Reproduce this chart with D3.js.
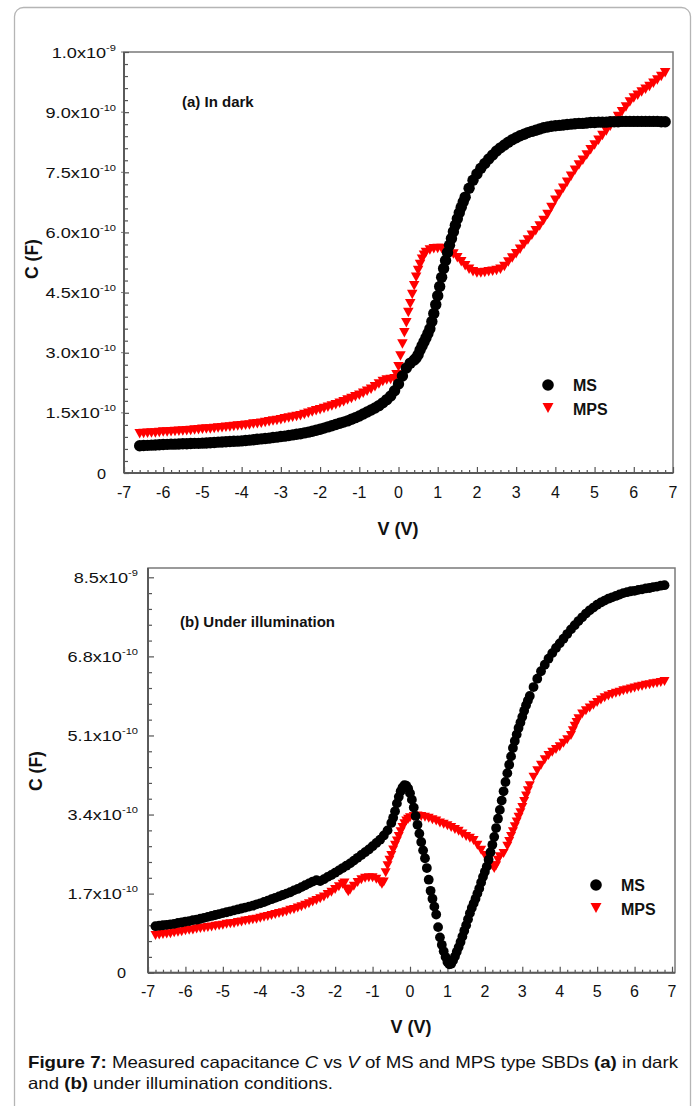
<!DOCTYPE html>
<html><head><meta charset="utf-8">
<script src="https://cdn.jsdelivr.net/npm/d3@7"></script>
<style>
body{margin:0;background:#fff}
svg{display:block}
text{font-family:"Liberation Sans",Arial,sans-serif;fill:#111}
</style>
</head><body>
<svg id="fig" width="697" height="1106"></svg>
<script>
// ---------- data (C in units of 1e-10 F, V in volts) ----------
const xTicks = [-7,-6,-5,-4,-3,-2,-1,0,1,2,3,4,5,6,7];
const darkYTicks = [0,1.5,3,4.5,6,7.5,9,10.5];
const darkYTickLabels = ["0","1.5x10^-10","3.0x10^-10","4.5x10^-10","6.0x10^-10","7.5x10^-10","9.0x10^-10","1.0x10^-9"];
const lightYTicks = [0,1.7,3.4,5.1,6.8,8.5];
const lightYTickLabels = ["0","1.7x10^-10","3.4x10^-10","5.1x10^-10","6.8x10^-10","8.5x10^-9"];
const seriesNames = ["MS","MPS"];

const darkMS = [[-6.6,0.68],[-6.5,0.685],[-6.4,0.69],[-6.3,0.695],[-6.2,0.70],[-6.1,0.705],[-6.0,0.71],[-5.9,0.715],[-5.8,0.72],[-5.7,0.72],[-5.6,0.725],[-5.5,0.73],[-5.4,0.73],[-5.3,0.735],[-5.2,0.74],[-5.1,0.74],[-5.0,0.745],[-4.9,0.75],[-4.8,0.755],[-4.7,0.76],[-4.6,0.77],[-4.5,0.775],[-4.4,0.78],[-4.3,0.785],[-4.2,0.79],[-4.1,0.795],[-4.0,0.80],[-3.9,0.81],[-3.8,0.82],[-3.7,0.83],[-3.6,0.84],[-3.5,0.85],[-3.4,0.86],[-3.3,0.87],[-3.2,0.885],[-3.1,0.895],[-3.0,0.91],[-2.9,0.92],[-2.8,0.935],[-2.7,0.95],[-2.6,0.965],[-2.5,0.98],[-2.4,1.0],[-2.3,1.02],[-2.2,1.04],[-2.1,1.065],[-2.0,1.09],[-1.9,1.12],[-1.8,1.15],[-1.7,1.18],[-1.6,1.21],[-1.5,1.24],[-1.4,1.27],[-1.3,1.30],[-1.2,1.34],[-1.1,1.38],[-1.0,1.42],[-0.9,1.47],[-0.8,1.52],[-0.7,1.57],[-0.6,1.62],[-0.5,1.68],[-0.4,1.75],[-0.3,1.83],[-0.2,1.92],[-0.1,2.05],[0.0,2.22],[0.1,2.42],[0.2,2.62],[0.3,2.74],[0.4,2.82],[0.45,2.87],[0.5,2.95],[0.55,3.07],[0.6,3.17],[0.65,3.27],[0.7,3.37],[0.75,3.48],[0.8,3.60],[0.85,3.78],[0.9,3.98],[0.95,4.20],[1.0,4.42],[1.05,4.65],[1.1,4.88],[1.15,5.10],[1.2,5.30],[1.25,5.50],[1.3,5.68],[1.35,5.85],[1.4,6.02],[1.45,6.18],[1.5,6.34],[1.55,6.49],[1.6,6.63],[1.65,6.76],[1.7,6.88],[1.8,7.10],[1.9,7.30],[2.0,7.46],[2.1,7.60],[2.2,7.72],[2.3,7.83],[2.4,7.93],[2.5,8.03],[2.6,8.11],[2.7,8.18],[2.8,8.25],[2.9,8.31],[3.0,8.36],[3.1,8.41],[3.2,8.45],[3.3,8.49],[3.4,8.52],[3.5,8.55],[3.6,8.58],[3.7,8.61],[3.8,8.63],[3.9,8.65],[4.0,8.66],[4.1,8.67],[4.2,8.68],[4.3,8.69],[4.4,8.70],[4.5,8.71],[4.6,8.72],[4.7,8.72],[4.8,8.73],[4.9,8.74],[5.0,8.74],[5.1,8.75],[5.2,8.75],[5.3,8.75],[5.4,8.76],[5.5,8.76],[5.6,8.76],[5.7,8.77],[5.8,8.77],[5.9,8.77],[6.0,8.77],[6.1,8.77],[6.2,8.77],[6.3,8.77],[6.4,8.77],[6.5,8.77],[6.6,8.77],[6.7,8.76],[6.8,8.76]];

const darkMPS = [[-6.6,0.98],[-6.5,0.985],[-6.4,0.99],[-6.3,0.995],[-6.2,1.0],[-6.1,1.01],[-6.0,1.02],[-5.9,1.025],[-5.8,1.03],[-5.7,1.035],[-5.6,1.04],[-5.5,1.05],[-5.4,1.055],[-5.3,1.06],[-5.2,1.07],[-5.1,1.08],[-5.0,1.09],[-4.9,1.095],[-4.8,1.10],[-4.7,1.11],[-4.6,1.12],[-4.5,1.13],[-4.4,1.14],[-4.3,1.15],[-4.2,1.16],[-4.1,1.17],[-4.0,1.18],[-3.9,1.19],[-3.8,1.20],[-3.7,1.22],[-3.6,1.23],[-3.5,1.24],[-3.4,1.26],[-3.3,1.28],[-3.2,1.30],[-3.1,1.31],[-3.0,1.33],[-2.9,1.35],[-2.8,1.37],[-2.7,1.39],[-2.6,1.41],[-2.5,1.43],[-2.4,1.46],[-2.3,1.49],[-2.2,1.52],[-2.1,1.55],[-2.0,1.58],[-1.9,1.61],[-1.8,1.64],[-1.7,1.67],[-1.6,1.70],[-1.5,1.74],[-1.4,1.78],[-1.3,1.82],[-1.2,1.86],[-1.1,1.90],[-1.0,1.94],[-0.9,1.99],[-0.8,2.04],[-0.7,2.09],[-0.6,2.15],[-0.5,2.22],[-0.4,2.28],[-0.3,2.32],[-0.2,2.33],[-0.1,2.35],[-0.05,2.45],[0.0,2.65],[0.05,2.92],[0.1,3.22],[0.15,3.50],[0.2,3.75],[0.25,4.00],[0.3,4.22],[0.35,4.45],[0.4,4.67],[0.45,4.88],[0.5,5.05],[0.55,5.20],[0.6,5.33],[0.65,5.43],[0.7,5.50],[0.8,5.56],[0.9,5.59],[1.0,5.60],[1.1,5.60],[1.2,5.58],[1.3,5.53],[1.4,5.46],[1.5,5.37],[1.6,5.27],[1.7,5.17],[1.8,5.08],[1.9,5.02],[2.0,4.99],[2.1,4.99],[2.2,5.00],[2.3,5.02],[2.4,5.03],[2.5,5.05],[2.6,5.08],[2.7,5.15],[2.8,5.26],[2.9,5.36],[3.0,5.47],[3.1,5.58],[3.2,5.70],[3.3,5.81],[3.4,5.93],[3.5,6.04],[3.6,6.16],[3.7,6.30],[3.8,6.45],[3.9,6.62],[4.0,6.80],[4.1,6.95],[4.2,7.10],[4.3,7.25],[4.4,7.40],[4.5,7.55],[4.6,7.68],[4.7,7.80],[4.8,7.93],[4.9,8.06],[5.0,8.18],[5.1,8.30],[5.2,8.42],[5.3,8.53],[5.4,8.65],[5.5,8.77],[5.6,8.89],[5.7,9.01],[5.8,9.13],[5.9,9.25],[6.0,9.35],[6.1,9.42],[6.2,9.50],[6.3,9.57],[6.4,9.64],[6.5,9.72],[6.6,9.80],[6.7,9.89],[6.8,9.98]];

const lightMS = [[-6.8,1.00],[-6.7,1.01],[-6.6,1.02],[-6.5,1.03],[-6.4,1.04],[-6.3,1.05],[-6.2,1.07],[-6.1,1.08],[-6.0,1.10],[-5.9,1.11],[-5.8,1.13],[-5.7,1.14],[-5.6,1.16],[-5.5,1.18],[-5.4,1.20],[-5.3,1.22],[-5.2,1.24],[-5.1,1.26],[-5.0,1.28],[-4.9,1.30],[-4.8,1.32],[-4.7,1.34],[-4.6,1.36],[-4.5,1.38],[-4.4,1.40],[-4.3,1.42],[-4.2,1.44],[-4.1,1.47],[-4.0,1.49],[-3.9,1.52],[-3.8,1.55],[-3.7,1.58],[-3.6,1.61],[-3.5,1.64],[-3.4,1.67],[-3.3,1.70],[-3.2,1.73],[-3.1,1.77],[-3.0,1.80],[-2.9,1.84],[-2.8,1.88],[-2.7,1.92],[-2.6,1.96],[-2.5,1.99],[-2.4,1.97],[-2.3,2.01],[-2.2,2.06],[-2.1,2.10],[-2.0,2.15],[-1.9,2.20],[-1.8,2.25],[-1.7,2.30],[-1.6,2.35],[-1.5,2.41],[-1.4,2.47],[-1.3,2.53],[-1.2,2.59],[-1.1,2.65],[-1.0,2.72],[-0.9,2.79],[-0.8,2.86],[-0.7,2.95],[-0.6,3.06],[-0.5,3.22],[-0.45,3.33],[-0.4,3.47],[-0.35,3.64],[-0.3,3.78],[-0.25,3.90],[-0.2,3.98],[-0.15,4.03],[-0.1,4.02],[-0.05,3.96],[0.0,3.86],[0.05,3.72],[0.1,3.55],[0.15,3.37],[0.2,3.18],[0.25,2.99],[0.3,2.81],[0.35,2.63],[0.4,2.46],[0.45,2.25],[0.5,2.00],[0.55,1.76],[0.6,1.59],[0.65,1.42],[0.7,1.25],[0.75,0.98],[0.8,0.76],[0.85,0.60],[0.9,0.46],[0.95,0.34],[1.0,0.23],[1.05,0.18],[1.1,0.19],[1.15,0.26],[1.2,0.35],[1.25,0.45],[1.3,0.55],[1.35,0.66],[1.4,0.78],[1.45,0.90],[1.5,1.02],[1.55,1.15],[1.6,1.28],[1.65,1.39],[1.7,1.49],[1.75,1.59],[1.8,1.70],[1.85,1.81],[1.9,1.94],[1.95,2.06],[2.0,2.17],[2.05,2.28],[2.1,2.43],[2.15,2.59],[2.2,2.75],[2.25,2.92],[2.3,3.11],[2.35,3.31],[2.4,3.50],[2.45,3.70],[2.5,3.90],[2.55,4.10],[2.6,4.29],[2.65,4.47],[2.7,4.65],[2.75,4.83],[2.8,4.98],[2.85,5.12],[2.9,5.26],[2.95,5.38],[3.0,5.50],[3.05,5.63],[3.1,5.75],[3.15,5.85],[3.2,5.95],[3.3,6.14],[3.4,6.32],[3.5,6.48],[3.6,6.62],[3.7,6.75],[3.8,6.87],[3.9,6.98],[4.0,7.08],[4.1,7.18],[4.2,7.28],[4.3,7.38],[4.4,7.47],[4.5,7.56],[4.6,7.64],[4.7,7.72],[4.8,7.79],[4.9,7.85],[5.0,7.91],[5.1,7.96],[5.2,8.00],[5.3,8.04],[5.4,8.07],[5.5,8.10],[5.6,8.13],[5.7,8.16],[5.8,8.18],[5.9,8.20],[6.0,8.21],[6.1,8.23],[6.2,8.24],[6.3,8.26],[6.4,8.27],[6.5,8.29],[6.6,8.30],[6.7,8.32],[6.8,8.33]];

const lightMPS = [[-6.8,0.80],[-6.7,0.81],[-6.6,0.82],[-6.5,0.83],[-6.4,0.84],[-6.3,0.86],[-6.2,0.87],[-6.1,0.88],[-6.0,0.90],[-5.9,0.91],[-5.8,0.92],[-5.7,0.94],[-5.6,0.95],[-5.5,0.96],[-5.4,0.97],[-5.3,0.98],[-5.2,1.0],[-5.1,1.01],[-5.0,1.02],[-4.9,1.04],[-4.8,1.05],[-4.7,1.06],[-4.6,1.08],[-4.5,1.09],[-4.4,1.11],[-4.3,1.12],[-4.2,1.14],[-4.1,1.15],[-4.0,1.17],[-3.9,1.19],[-3.8,1.21],[-3.7,1.23],[-3.6,1.25],[-3.5,1.27],[-3.4,1.29],[-3.3,1.31],[-3.2,1.34],[-3.1,1.36],[-3.0,1.39],[-2.9,1.42],[-2.8,1.45],[-2.7,1.48],[-2.6,1.52],[-2.5,1.55],[-2.4,1.59],[-2.3,1.63],[-2.2,1.68],[-2.1,1.73],[-2.0,1.79],[-1.9,1.85],[-1.8,1.90],[-1.75,1.93],[-1.7,1.80],[-1.65,1.74],[-1.6,1.78],[-1.5,1.86],[-1.4,1.94],[-1.3,2.00],[-1.2,2.03],[-1.1,2.04],[-1.0,2.04],[-0.9,2.01],[-0.8,1.95],[-0.75,1.90],[-0.7,1.95],[-0.65,2.15],[-0.6,2.30],[-0.55,2.42],[-0.5,2.52],[-0.45,2.64],[-0.4,2.74],[-0.35,2.83],[-0.3,2.93],[-0.25,3.03],[-0.2,3.12],[-0.15,3.20],[-0.1,3.26],[-0.05,3.30],[0.0,3.33],[0.1,3.36],[0.2,3.37],[0.3,3.36],[0.4,3.34],[0.5,3.32],[0.6,3.29],[0.7,3.26],[0.8,3.22],[0.9,3.19],[1.0,3.16],[1.1,3.12],[1.2,3.08],[1.3,3.04],[1.4,2.98],[1.5,2.93],[1.6,2.89],[1.7,2.84],[1.8,2.74],[1.9,2.63],[2.0,2.52],[2.1,2.42],[2.2,2.30],[2.25,2.24],[2.3,2.30],[2.35,2.42],[2.4,2.49],[2.5,2.56],[2.6,2.72],[2.65,2.82],[2.7,2.93],[2.75,3.03],[2.8,3.14],[2.85,3.24],[2.9,3.34],[2.95,3.44],[3.0,3.55],[3.05,3.68],[3.1,3.80],[3.15,3.91],[3.2,4.02],[3.3,4.20],[3.4,4.34],[3.5,4.46],[3.6,4.58],[3.7,4.67],[3.8,4.74],[3.9,4.80],[4.0,4.86],[4.1,4.93],[4.2,5.01],[4.3,5.10],[4.35,5.20],[4.4,5.30],[4.45,5.38],[4.5,5.46],[4.6,5.56],[4.7,5.63],[4.8,5.69],[4.9,5.75],[5.0,5.81],[5.1,5.86],[5.2,5.91],[5.3,5.95],[5.4,5.98],[5.5,6.01],[5.6,6.03],[5.7,6.06],[5.8,6.08],[5.9,6.10],[6.0,6.12],[6.1,6.14],[6.2,6.16],[6.3,6.18],[6.4,6.19],[6.5,6.21],[6.6,6.22],[6.7,6.24],[6.8,6.26]];

// ---------- drawing ----------
const svg = d3.select("#fig");
svg.append("rect").attr("width",697).attr("height",1106).attr("fill","#fff");
svg.append("rect").attr("x",14.5).attr("y",7.5).attr("width",676).attr("height",1200)
  .attr("rx",9).attr("fill","none").attr("stroke","#b5b5b5").attr("stroke-width",1.3);

const triPath = (w,h) => `M${-w/2},${-h/2}L${w/2},${-h/2}L0,${h/2}Z`;

function panel(cfg){
  const x = d3.scaleLinear().domain(cfg.xDomain).range([cfg.left, cfg.right]);
  const y = d3.scaleLinear().domain(cfg.yDomain).range([cfg.bottom, cfg.top]);
  const g = svg.append("g");

  g.append("rect").attr("x",cfg.left).attr("y",cfg.top)
    .attr("width",cfg.right-cfg.left).attr("height",cfg.bottom-cfg.top)
    .attr("fill","none").attr("stroke","#7a7a7a").attr("stroke-width",1.5);

  // x axis (ticks inward)
  const xMinor = d3.range(cfg.xDomain[0], 7.0001, 0.2).filter(v => Math.abs(v-Math.round(v))>1e-6);
  const xAxisMajor = d3.axisBottom(x).tickValues(xTicks).tickSize(-6).tickFormat("");
  const xAxisMinor = d3.axisBottom(x).tickValues(xMinor).tickSize(-3).tickFormat("");
  [xAxisMinor, xAxisMajor].forEach(ax => {
    const a = g.append("g").attr("transform",`translate(0,${cfg.bottom})`).call(ax);
    a.select(".domain").remove();
    a.selectAll("line").attr("stroke","#555").attr("stroke-width",1.2);
  });
  g.append("line").attr("x1",cfg.left).attr("x2",cfg.right).attr("y1",cfg.bottom).attr("y2",cfg.bottom)
    .attr("stroke","#5a5a5a").attr("stroke-width",2);
  g.selectAll(".xl").data(xTicks).join("text")
    .attr("x",d=>x(d)).attr("y",cfg.bottom+cfg.xLabelDy)
    .attr("text-anchor","middle").attr("font-size",16).text(d=>d);

  // y axis
  const yMinor = d3.range(cfg.yDomain[0], cfg.yDomain[1]+1e-6, cfg.yMinorStep)
      .filter(v => !cfg.yTicks.some(t => Math.abs(t-v)<1e-6));
  const yAxisMajor = d3.axisLeft(y).tickValues(cfg.yTicks).tickSize(-cfg.yMajorIn).tickFormat("");
  const yAxisMinor = d3.axisLeft(y).tickValues(yMinor).tickSize(-4).tickFormat("");
  [yAxisMinor, yAxisMajor].forEach(ax => {
    const a = g.append("g").attr("transform",`translate(${cfg.left},0)`).call(ax);
    a.select(".domain").remove();
    a.selectAll("line").attr("stroke","#555").attr("stroke-width",1.2);
  });
  if (cfg.yMajorOut) {
    g.selectAll(".yo").data(cfg.yTicks.slice(1)).join("line")
      .attr("x1",cfg.left-cfg.yMajorOut).attr("x2",cfg.left)
      .attr("y1",d=>y(d)).attr("y2",d=>y(d)).attr("stroke","#777").attr("stroke-width",1);
  }
  g.append("line").attr("x1",cfg.left).attr("x2",cfg.left).attr("y1",cfg.top).attr("y2",cfg.bottom)
    .attr("stroke","#5a5a5a").attr("stroke-width",2);

  cfg.yTicks.forEach((t,i) => {
    const parts = cfg.yLabels[i].split("^");
    const gx = parts.length === 1 ? cfg.left - cfg.zeroGap : cfg.left - cfg.labelGap;
    const tg = g.append("g").attr("transform",`translate(${gx},${y(t)+5.5}) scale(${parts.length===1?1.05:1.17},1)`);
    const tx = tg.append("text").attr("x",0).attr("y",0).attr("font-size",15.5).attr("text-anchor","end");
    tx.append("tspan").text(parts[0]);
    if (parts.length > 1) tx.append("tspan").attr("font-size",9.5).attr("dy",-7).text(parts[1]);
  });

  g.append("text").attr("transform",`translate(${cfg.yTitleX},${cfg.yTitleY}) rotate(-90)`)
    .attr("text-anchor","middle").attr("font-weight","bold").attr("font-size",17.5).text("C (F)");
  g.append("text").attr("x",cfg.xTitleX).attr("y",cfg.xTitleY)
    .attr("text-anchor","middle").attr("font-weight","bold").attr("font-size",18).text("V (V)");

  g.append("text").attr("x",cfg.labelX).attr("y",cfg.labelY)
    .attr("font-weight","bold").attr("font-size",15).text(cfg.label);

  // series: MPS (red triangles) then MS (black circles)
  g.append("g").selectAll("path").data(cfg.mps).join("path")
    .attr("d", triPath(cfg.triW, cfg.triH))
    .attr("transform", d=>`translate(${x(d[0])},${y(d[1])})`)
    .attr("fill","#ff0000");
  g.append("g").selectAll("circle").data(cfg.ms).join("circle")
    .attr("cx",d=>x(d[0])).attr("cy",d=>y(d[1])).attr("r",cfg.r).attr("fill","#000");

  // legend
  const lg = g.append("g");
  lg.append("circle").attr("cx",cfg.legX).attr("cy",cfg.legY).attr("r",5.8).attr("fill","#000");
  lg.append("path").attr("d",triPath(11,10)).attr("transform",`translate(${cfg.legX},${cfg.legY+23})`).attr("fill","#ff0000");
  lg.append("text").attr("x",cfg.legX+25).attr("y",cfg.legY+6).attr("font-weight","bold").attr("font-size",16).text(seriesNames[0]);
  lg.append("text").attr("x",cfg.legX+25).attr("y",cfg.legY+29.5).attr("font-weight","bold").attr("font-size",16).text(seriesNames[1]);
}

panel({
  left:124, right:673, top:52, bottom:473,
  xDomain:[-7,7], yDomain:[0,10.5],
  yTicks:darkYTicks, yLabels:darkYTickLabels, yMinorStep:0.3,
  yMajorIn:5, yMajorOut:3, labelGap:8, zeroGap:18,
  xLabelDy:25, yTitleX:38, yTitleY:259, xTitleX:398, xTitleY:535,
  label:"(a) In dark", labelX:182, labelY:107,
  ms:darkMS, mps:darkMPS, r:5.7, triW:10.5, triH:9.5,
  legX:548, legY:385
});

panel({
  left:148, right:675, top:568, bottom:972.7,
  xDomain:[-7,7.08], yDomain:[0,8.7],
  yTicks:lightYTicks, yLabels:lightYTickLabels, yMinorStep:0.34,
  yMajorIn:6, yMajorOut:0, labelGap:10, zeroGap:22,
  xLabelDy:24, yTitleX:42, yTitleY:771, xTitleX:411, xTitleY:1033,
  label:"(b) Under illumination", labelX:180, labelY:627,
  ms:lightMS, mps:lightMPS, r:4.9, triW:10, triH:9,
  legX:596, legY:885
});

// caption
const cap = svg.append("g").attr("font-size",16.5);
const l1 = cap.append("text").attr("x",28).attr("y",1068).attr("textLength",650).attr("lengthAdjust","spacingAndGlyphs");
[["Figure 7:","bold",""],[" Measured capacitance ","",""],["C","","italic"],[" vs ","",""],["V","","italic"],[" of MS and MPS type SBDs ","",""],["(a)","bold",""],[" in dark","",""]]
 .forEach(p => l1.append("tspan").attr("font-weight",p[1]||null).attr("font-style",p[2]||null).text(p[0]));
const l2 = cap.append("text").attr("x",28).attr("y",1089).attr("textLength",305).attr("lengthAdjust","spacingAndGlyphs");
[["and ","",""],["(b)","bold",""],[" under illumination conditions.","",""]]
 .forEach(p => l2.append("tspan").attr("font-weight",p[1]||null).attr("font-style",p[2]||null).text(p[0]));
</script>
</body></html>
